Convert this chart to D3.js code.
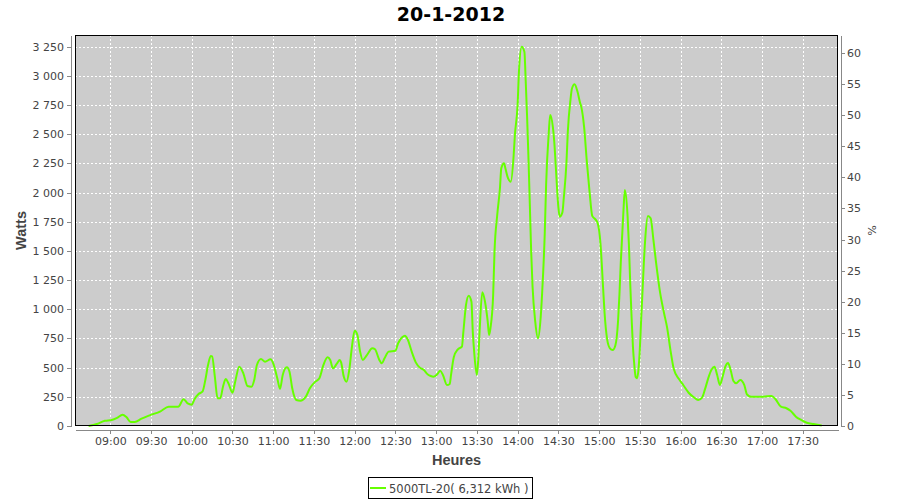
<!DOCTYPE html>
<html><head><meta charset="utf-8">
<script src="https://cdn.jsdelivr.net/npm/d3@7"></script>
<style>body{margin:0;background:#fff} svg{display:block}</style>
</head><body><svg id="c" width="900" height="500"></svg>
<script>
const chartTitle = "20-1-2012";
const seriesName = "5000TL-20( 6,312 kWh )";
const xLabel = "Heures";
const yLabel = "Watts";
const y2Label = "%";
const timeTicks = ["09:00","09:30","10:00","10:30","11:00","11:30","12:00","12:30","13:00","13:30","14:00","14:30","15:00","15:30","16:00","16:30","17:00","17:30"];
const wattTicks = [0,250,500,750,1000,1250,1500,1750,2000,2250,2500,2750,3000,3250];
const pctTicks = [0,5,10,15,20,25,30,35,40,45,50,55,60];
const times = ["08:44","08:50","08:56","09:01","09:05","09:09","09:12","09:15","09:18","09:23","09:29","09:37","09:43","09:50","09:54","09:57","10:00","10:02","10:05","10:08","10:10","10:12","10:14","10:15","10:17","10:19","10:21","10:23","10:25","10:27","10:30","10:32","10:35","10:38","10:41","10:44","10:46","10:48","10:51","10:54","10:58","11:00","11:03","11:05","11:07","11:10","11:12","11:14","11:17","11:20","11:24","11:27","11:31","11:34","11:37","11:40","11:42","11:44","11:47","11:49","11:50","11:52","11:54","11:56","11:58","12:00","12:02","12:04","12:06","12:09","12:13","12:15","12:18","12:20","12:22","12:25","12:30","12:32","12:35","12:37","12:39","12:42","12:45","12:48","12:51","12:53","12:56","12:58","13:01","13:03","13:05","13:08","13:10","13:11","13:13","13:16","13:19","13:20","13:22","13:24","13:26","13:27","13:28","13:30","13:31","13:32","13:34","13:36","13:38","13:39","13:40","13:42","13:43","13:45","13:47","13:48","13:50","13:51","13:53","13:55","13:57","13:58","14:00","14:01","14:03","14:05","14:06","14:07","14:08","14:09","14:10","14:11","14:13","14:15","14:17","14:18","14:20","14:21","14:23","14:24","14:26","14:27","14:28","14:30","14:31","14:33","14:34","14:36","14:37","14:39","14:40","14:42","14:44","14:46","14:47","14:49","14:51","14:53","14:55","14:57","14:59","15:01","15:03","15:04","15:06","15:08","15:10","15:12","15:14","15:15","15:16","15:18","15:19","15:21","15:22","15:23","15:24","15:25","15:26","15:27","15:28","15:29","15:30","15:31","15:32","15:33","15:34","15:36","15:38","15:40","15:42","15:45","15:48","15:50","15:53","15:55","15:59","16:02","16:06","16:10","16:13","16:16","16:18","16:21","16:23","16:25","16:27","16:29","16:31","16:33","16:35","16:37","16:39","16:41","16:44","16:47","16:49","16:52","17:01","17:07","17:10","17:14","17:18","17:21","17:25","17:29","17:33","17:38","17:44"];
const watts = [0,17,45,51,69,97,74,34,34,63,91,126,165,165,229,194,183,229,274,297,394,523,600,597,422,237,237,337,403,366,285,380,508,451,343,337,394,523,574,551,571,537,409,318,437,503,465,323,223,217,251,323,380,409,523,589,566,494,537,566,545,422,380,480,680,817,780,637,566,608,666,657,570,537,580,637,645,709,760,774,743,637,545,500,480,451,428,422,446,474,437,351,360,440,590,657,680,800,1037,1117,1065,808,637,437,566,808,1146,1065,894,780,837,1122,1494,1808,2037,2208,2251,2208,2122,2093,2300,2493,2750,3036,3250,3207,2950,2650,2300,1900,1494,1200,894,751,930,1122,1650,2065,2520,2665,2560,2436,2250,1880,1793,1830,1950,2260,2522,2800,2890,2928,2870,2770,2730,2560,2265,2008,1800,1774,1737,1570,1180,979,740,666,651,690,900,1122,1400,1850,2022,1800,1550,1208,920,670,520,420,410,480,650,908,1150,1400,1600,1799,1780,1600,1400,1140,960,851,620,490,400,351,285,244,223,246,314,430,486,508,437,351,422,508,540,475,385,366,394,350,270,251,251,257,229,165,152,131,80,51,28,17,5];

const toMin = s => { const [h,m] = s.split(":").map(Number); return h*60+m; };
const fmtMin = m => String(Math.floor(m/60)).padStart(2,"0")+":"+String(m%60).padStart(2,"0");
const data = times.map((t,i)=>({t:toMin(t), w:watts[i]}));

const svg = d3.select("#c");
const L = 75, R = 838, T = 35, B = 426;
const x = d3.scaleLinear().domain([toMin("08:34"), toMin("17:56")]).range([L, R]);
const y = d3.scaleLinear().domain([0, 3350]).range([B, T]);
const y2 = d3.scaleLinear().domain([0, 62.9]).range([B, T]);
const loc = d3.formatLocale({decimal:",", thousands:" ", grouping:[3], currency:["",""]});
const fmtW = loc.format(",d");

// plot background
svg.append("rect").attr("x",L).attr("y",T).attr("width",R-L).attr("height",B-T).attr("fill","#cccccc");

// grid
const g = svg.append("g").attr("stroke","#ffffff").attr("stroke-width",1).attr("stroke-dasharray","2,2").attr("shape-rendering","crispEdges");
g.selectAll(".gx").data(timeTicks.map(toMin)).join("line")
  .attr("x1",d=>Math.round(x(d))+0.5).attr("x2",d=>Math.round(x(d))+0.5).attr("y1",T).attr("y2",B);
g.selectAll(".gy").data(wattTicks).join("line")
  .attr("y1",d=>Math.round(y(d))+0.5).attr("y2",d=>Math.round(y(d))+0.5).attr("x1",L).attr("x2",R);

// line
const line = d3.line().x(d=>x(d.t)).y(d=>y(d.w)).curve(d3.curveMonotoneX);
svg.append("path").datum(data).attr("d",line).attr("fill","none").attr("stroke","#66ff00").attr("stroke-width",2).attr("stroke-linejoin","round");

// outline
svg.append("rect").attr("x",L+0.5).attr("y",T+0.5).attr("width",R-L-1).attr("height",B-T-1)
  .attr("fill","none").attr("stroke","#000").attr("stroke-width",1).attr("shape-rendering","crispEdges");

function styleAxis(sel){
  sel.selectAll("path.domain").attr("stroke","#888888").attr("shape-rendering","crispEdges");
  sel.selectAll(".tick line").attr("stroke","#888888").attr("shape-rendering","crispEdges");
  sel.selectAll(".tick text").attr("fill","#444444").style("font-family","'DejaVu Sans'").style("font-size","11px");
}
const ax = svg.append("g").attr("transform",`translate(0,${B+4})`)
  .call(d3.axisBottom(x.copy().range([L,R])).tickValues(timeTicks.map(toMin)).tickFormat(fmtMin).tickSize(4).tickSizeOuter(0).tickPadding(3));
styleAxis(ax);
const ayL = d3.scaleLinear().domain(y.domain()).range([B,T]);
const ay = svg.append("g").attr("transform",`translate(${L-4},0)`)
  .call(d3.axisLeft(ayL).tickValues(wattTicks).tickFormat(fmtW).tickSize(4).tickSizeOuter(0).tickPadding(3));
styleAxis(ay);
const ay2 = svg.append("g").attr("transform",`translate(${R+3},0)`)
  .call(d3.axisRight(y2).tickValues(pctTicks).tickFormat(d3.format("d")).tickSize(4).tickSizeOuter(0).tickPadding(2));
styleAxis(ay2);

// title & labels
svg.append("text").attr("x",451).attr("y",21).attr("text-anchor","middle")
  .style("font-family","'DejaVu Sans'").style("font-weight","bold").style("font-size","19px").attr("fill","#000").text(chartTitle);
svg.append("text").attr("x",(L+R)/2).attr("y",465).attr("text-anchor","middle")
  .style("font-family","'Liberation Sans'").style("font-weight","bold").style("font-size","14.5px").attr("fill","#444444").text(xLabel);
svg.append("text").attr("transform",`translate(26,${(T+B)/2}) rotate(-90)`).attr("text-anchor","middle")
  .style("font-family","'Liberation Sans'").style("font-weight","bold").style("font-size","14.5px").attr("fill","#444444").text(yLabel);
svg.append("text").attr("transform",`translate(868,${(T+B)/2}) rotate(90)`).attr("text-anchor","middle")
  .style("font-family","'DejaVu Sans'").style("font-size","11px").attr("fill","#444444").text(y2Label);

// legend
const lg = svg.append("g");
lg.append("rect").attr("x",368.5).attr("y",477.5).attr("width",164).attr("height",21).attr("fill","#fff").attr("stroke","#000").attr("shape-rendering","crispEdges");
lg.append("line").attr("x1",370).attr("x2",386).attr("y1",488).attr("y2",488).attr("stroke","#66ff00").attr("stroke-width",2);
lg.append("text").attr("x",389).attr("y",492.5).style("font-family","'DejaVu Sans'").style("font-size","11.5px").attr("fill","#444444").text(seriesName);
</script></body></html>
